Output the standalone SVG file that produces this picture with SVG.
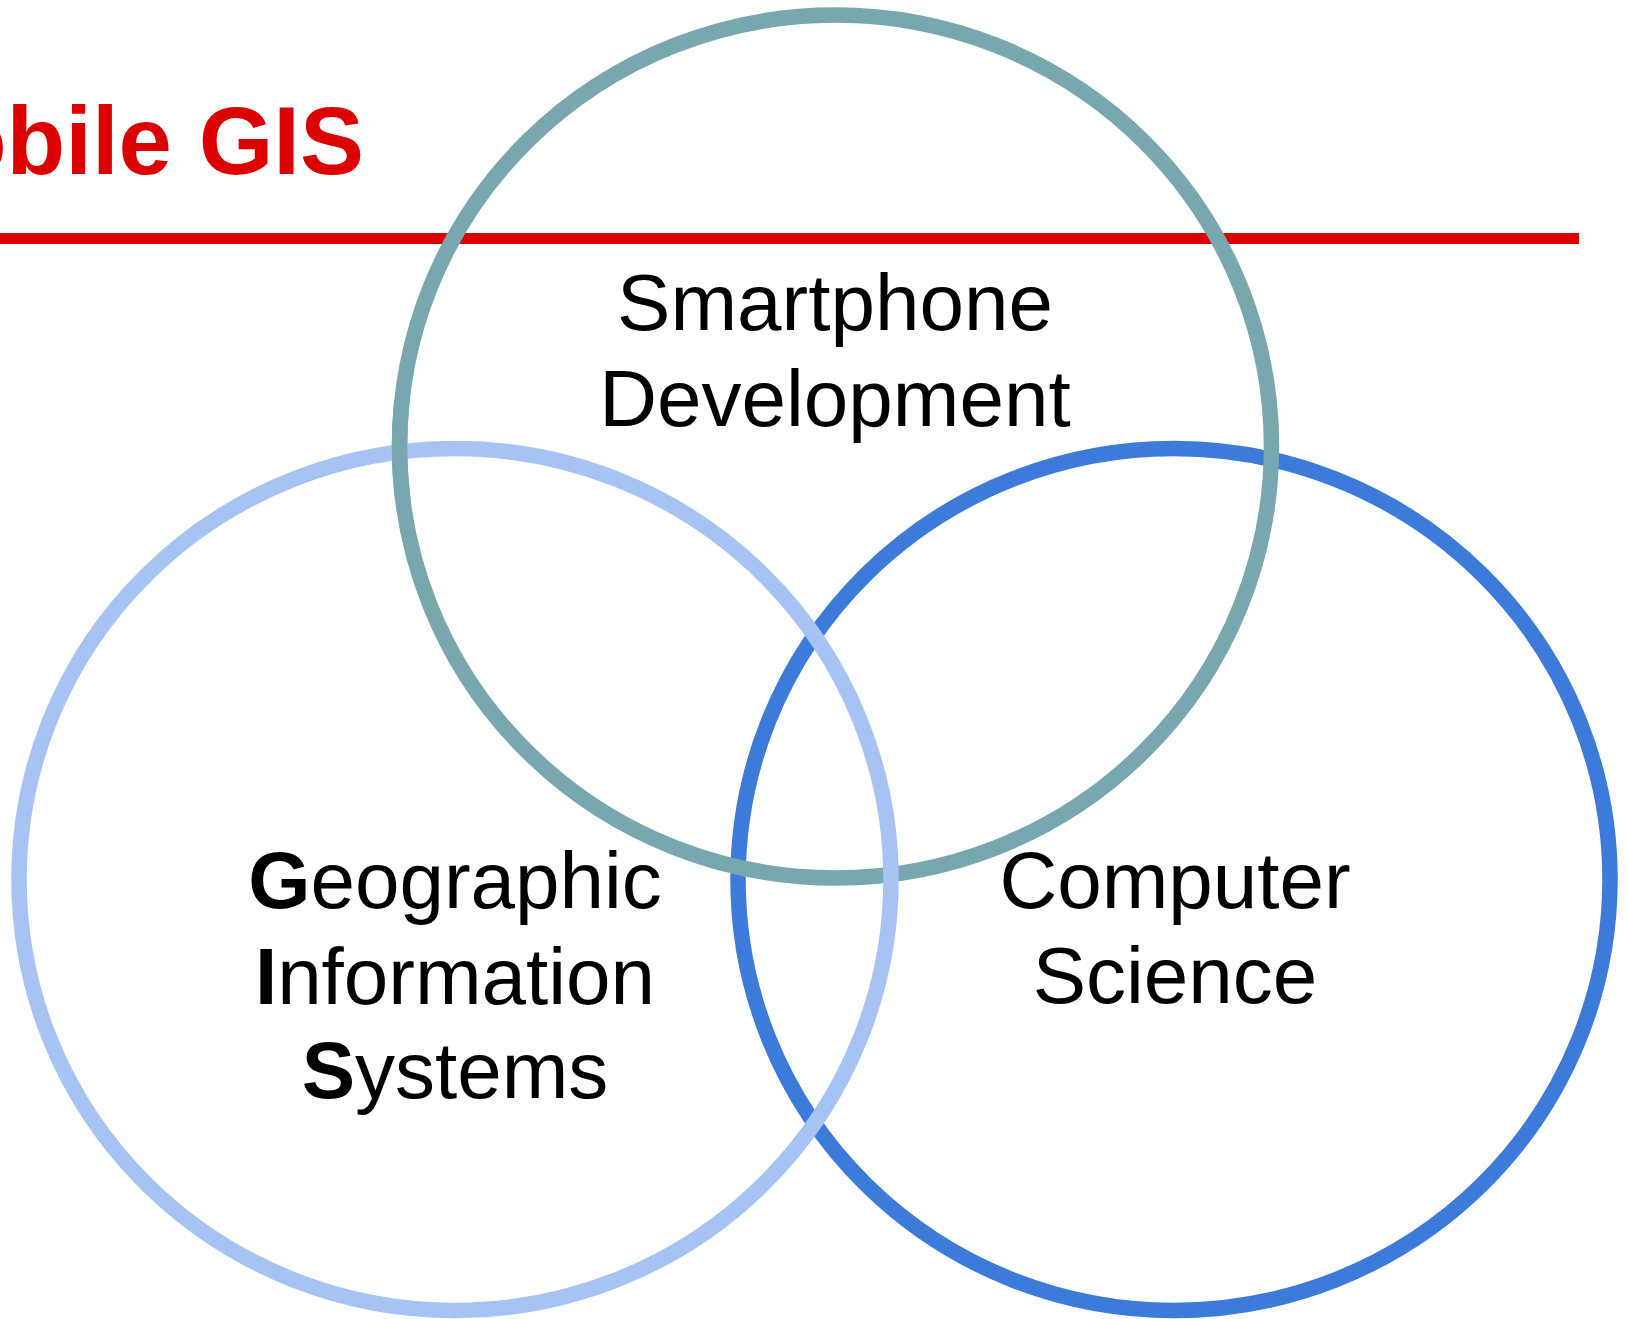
<svg xmlns="http://www.w3.org/2000/svg" width="1627" height="1319" viewBox="0 0 1627 1319">
  <style>
    .ring { fill: none; stroke-width: 15.5; }
    .teal { stroke: #78A7B0; }
    .pale { stroke: #A6C3F3; }
    .blue { stroke: #3D7BDA; }
    .label { font-family: "Liberation Sans", Arial, sans-serif; font-size: 80px; fill: #000; text-anchor: middle; }
    .b { font-weight: bold; }
    .title { font-family: "Liberation Sans", Arial, sans-serif; font-size: 96px; font-weight: bold; fill: #DC0000; text-anchor: end; }
  </style>
  <rect width="1627" height="1319" fill="#FFFFFF"/>

  <!-- heading and rule -->
  <g id="heading">
    <text class="title" x="364" y="174">Mobile GIS</text>
    <line x1="0" y1="238.5" x2="1579" y2="238.5" stroke="#DC0000" stroke-width="11"/>
  </g>

  <!-- three overlapping rings -->
  <g id="ring-cs">
    <ellipse class="ring blue" cx="1174" cy="879.5" rx="436" ry="431"/>
  </g>
  <g id="ring-smartphone">
    <ellipse class="ring teal" cx="835.5" cy="446.5" rx="436" ry="431.5"/>
  </g>
  <g id="ring-gis">
    <ellipse class="ring pale" cx="455" cy="879.5" rx="436" ry="431"/>
  </g>

  <!-- weave: teal passes over the pale ring at upper left -->
  <g id="weave">
    <clipPath id="clipUL"><rect x="370" y="400" width="60" height="100"/></clipPath>
    <ellipse class="ring teal" cx="835.5" cy="446.5" rx="436" ry="431.5" clip-path="url(#clipUL)"/>
  </g>

  <!-- labels -->
  <g id="label-smartphone">
    <text class="label" x="835" y="330">Smartphone</text>
    <text class="label" x="835" y="426">Development</text>
  </g>
  <g id="label-gis">
    <text class="label" x="455" y="908"><tspan class="b">G</tspan>eographic</text>
    <text class="label" x="455" y="1004"><tspan class="b">I</tspan>nformation</text>
    <text class="label" x="455" y="1098"><tspan class="b">S</tspan>ystems</text>
  </g>
  <g id="label-cs">
    <text class="label" x="1175" y="908">Computer</text>
    <text class="label" x="1175" y="1003">Science</text>
  </g>
</svg>
